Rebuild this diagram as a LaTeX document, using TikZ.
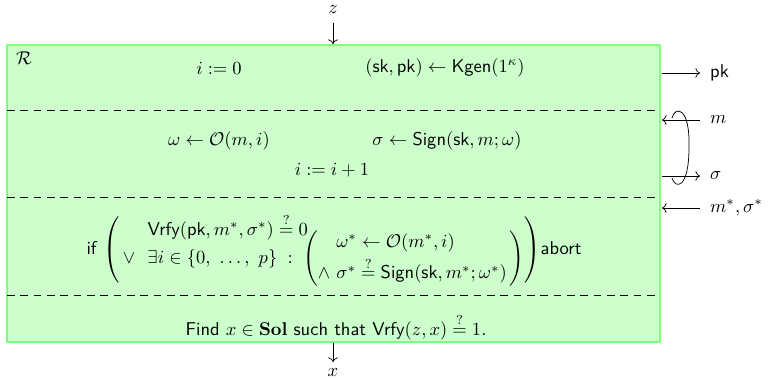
\documentclass[tikz,border=0pt]{standalone}
\usepackage{amsmath,amssymb}
\usetikzlibrary{arrows.meta}
\newcommand{\sfw}[1]{\textsf{#1}}
\newcommand{\qeq}{\stackrel{?}{=}}
\begin{document}
\begin{tikzpicture}[x=0.54pt,y=-0.54pt,
  boxstyle/.style={draw=green!50!white,line width=1.1pt,fill=green!20!white},
  sepline/.style={line width=0.45pt,dash pattern=on 4.2pt off 3pt},
  flow/.style={->,line width=0.4pt},
  lbl/.style={inner sep=1pt}]
\useasboundingbox (0,0) rectangle (770,379);
\draw[boxstyle] (7,45) rectangle (660,342);
\coordinate (dl1) at (7,110); \coordinate (dr1) at (660,110);
\coordinate (dl2) at (7,197); \coordinate (dr2) at (660,197);
\coordinate (dl3) at (7,295); \coordinate (dr3) at (660,295);
\draw[sepline] (dl1) -- (dr1);
\draw[sepline] (dl2) -- (dr2);
\draw[sepline] (dl3) -- (dr3);
% top / bottom
\node[lbl] (z) at (333,10) {$z$};
\coordinate (zin) at (333,44);
\draw[flow] (333,23) -- (zin);
\coordinate (xout) at (333,343);
\node[lbl] (x) at (333,373) {$x$};
\draw[flow] (xout) -- (333,362);
% right side
\coordinate (pks) at (662,73); \coordinate (pke) at (700,73);
\node[lbl,anchor=west] (pk) at (708,73) {\sfw{pk}};
\draw[flow] (pks) -- (pke);
\coordinate (mt) at (662,120); \coordinate (ms0) at (700,120);
\node[lbl,anchor=west] (m) at (708,120) {$m$};
\draw[flow] (ms0) -- (mt);
\coordinate (ss) at (662,176); \coordinate (se) at (700,176);
\node[lbl,anchor=west] (sig) at (708,176) {$\sigma$};
\draw[flow] (ss) -- (se);
\coordinate (mst) at (662,208); \coordinate (mss) at (700,208);
\node[lbl,anchor=west] (ms) at (708,208) {$m^*, \sigma^*$};
\draw[flow] (mss) -- (mst);
\coordinate (la) at (672,118); \coordinate (lb) at (672,178);
\draw[line width=0.4pt] (la) .. controls (675,106) and (690,106) .. (689,147) .. controls (689,190) and (675,189) .. (lb);
% contents
\node[lbl] (R) at (24,58) {$\mathcal{R}$};
\node[lbl] (i0) at (219,68) {$i := 0$};
\node[lbl] (kg) at (445,68) {$(\sfw{sk},\sfw{pk}) \gets \sfw{Kgen}(1^\kappa)$};
\node[lbl] (om) at (219,141) {$\omega \gets \mathcal{O}(m,i)$};
\node[lbl] (sg) at (447,141) {$\sigma \gets \sfw{Sign}(\sfw{sk},m;\omega)$};
\node[lbl] (inc) at (332,170) {$i := i+1$};
\node[lbl] (ifb) at (334,250) {\sfw{if}\ $\left(\begin{array}{@{\,}r@{\ \ }l@{}}
 & \sfw{Vrfy}(\sfw{pk},m^*,\sigma^*) \qeq 0\\[-6pt]
 \lor & \exists i \in \{0,\ \ldots,\ p\} \;:\; \left(\begin{array}{@{}r@{\ }l@{\,}}
   & \omega^* \gets \mathcal{O}(m^*,i)\\[2pt]
   \land & \sigma^* \qeq \sfw{Sign}(\sfw{sk},m^*;\omega^*)
 \end{array}\right)
\end{array}\right)$\sfw{abort}};
\node[lbl] (find) at (336,327) {\sfw{Find} $x \in \mathbf{Sol}$ \sfw{such that} $\sfw{Vrfy}(z,x) \qeq 1$.};
\end{tikzpicture}
\end{document}
